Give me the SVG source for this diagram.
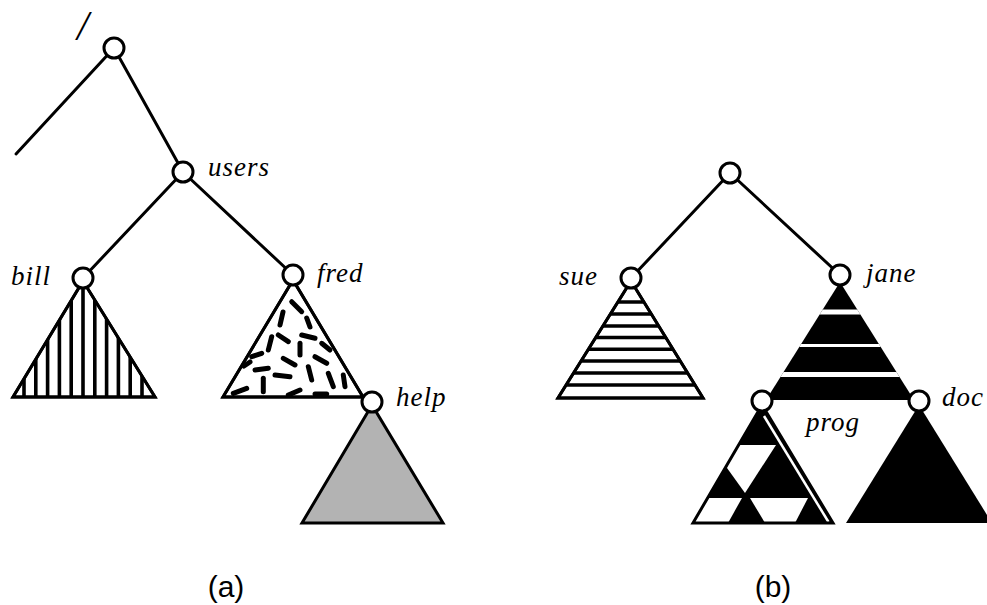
<svg xmlns="http://www.w3.org/2000/svg" width="987" height="605" viewBox="0 0 987 605">
  <style>
    .edge { stroke: #000; stroke-width: 3; fill: none; stroke-linecap: round; }
    .node { fill: #fff; stroke: #000; stroke-width: 3; }
    .tri { stroke: #000; stroke-width: 3; stroke-linejoin: miter; }
    .lbl { font-family: "Liberation Serif", "Times New Roman", serif; font-style: italic; font-size: 27px; fill: #000; letter-spacing: 1px; }
    .slash { font-family: "Liberation Serif", "Times New Roman", serif; font-style: italic; font-size: 42px; fill: #000; }
    .cap { font-family: "Liberation Sans", Arial, sans-serif; font-size: 30px; fill: #000; }
    .vs { stroke: #000; stroke-width: 3.6; }
    .hs { stroke: #000; stroke-width: 3.6; }
    .dash { stroke: #000; stroke-width: 5; stroke-linecap: round; }
  </style>
  <defs>
    <clipPath id="cBill"><polygon points="83,281 13,397 155,397"/></clipPath>
    <clipPath id="cFred"><polygon points="293,280 223,397 363,397"/></clipPath>
    <clipPath id="cSue"><polygon points="631,281 558,398 703,398"/></clipPath>
    <clipPath id="cJane"><polygon points="840,282 766,400 914,400"/></clipPath>
    <clipPath id="cProg"><polygon points="762,405 693,523 833,523"/></clipPath>
  </defs>

  <g id="connectors">
    <line class="edge" x1="114" y1="48" x2="16" y2="154"/>
    <line class="edge" x1="114" y1="48" x2="183" y2="172"/>
    <line class="edge" x1="183" y1="172" x2="83" y2="278"/>
    <line class="edge" x1="183" y1="172" x2="293" y2="275"/>
    <line class="edge" x1="730" y1="173" x2="631" y2="278"/>
    <line class="edge" x1="730" y1="173" x2="840" y2="275"/>
  </g>

  <!-- (a) tree -->
  <g id="bill-subtree">
    <polygon class="tri" points="83,281 13,397 155,397" fill="#fff"/>
    <g clip-path="url(#cBill)">
      <line class="vs" x1="24" y1="280" x2="24" y2="398"/>
      <line class="vs" x1="35.8" y1="280" x2="35.8" y2="398"/>
      <line class="vs" x1="47.6" y1="280" x2="47.6" y2="398"/>
      <line class="vs" x1="59.4" y1="280" x2="59.4" y2="398"/>
      <line class="vs" x1="71.2" y1="280" x2="71.2" y2="398"/>
      <line class="vs" x1="83" y1="280" x2="83" y2="398"/>
      <line class="vs" x1="94.8" y1="280" x2="94.8" y2="398"/>
      <line class="vs" x1="106.6" y1="280" x2="106.6" y2="398"/>
      <line class="vs" x1="118.4" y1="280" x2="118.4" y2="398"/>
      <line class="vs" x1="130.2" y1="280" x2="130.2" y2="398"/>
      <line class="vs" x1="142" y1="280" x2="142" y2="398"/>
    </g>
    <polygon class="tri" points="83,281 13,397 155,397" fill="none"/>
  </g>

  <g id="fred-subtree">
    <polygon class="tri" points="293,280 223,397 363,397" fill="#fff"/>
    <g clip-path="url(#cFred)">
      <line class="dash" x1="291.7" y1="301.7" x2="301.7" y2="311.7"/>
      <line class="dash" x1="283" y1="312" x2="280" y2="325"/>
      <line class="dash" x1="306.7" y1="318" x2="310" y2="327"/>
      <line class="dash" x1="271.7" y1="336.7" x2="268.3" y2="350"/>
      <line class="dash" x1="278.3" y1="335" x2="288.3" y2="341.7"/>
      <line class="dash" x1="301.7" y1="335" x2="315" y2="338.3"/>
      <line class="dash" x1="300" y1="343.3" x2="300" y2="355"/>
      <line class="dash" x1="321.7" y1="343.3" x2="330" y2="350"/>
      <line class="dash" x1="251.7" y1="356.7" x2="261.7" y2="353.3"/>
      <line class="dash" x1="283.3" y1="358.3" x2="295" y2="365"/>
      <line class="dash" x1="315" y1="356.7" x2="326.7" y2="363.3"/>
      <line class="dash" x1="255" y1="370" x2="268.3" y2="368.3"/>
      <line class="dash" x1="308.3" y1="366.7" x2="311.7" y2="380"/>
      <line class="dash" x1="275" y1="375" x2="290" y2="376.7"/>
      <line class="dash" x1="263.3" y1="378.3" x2="263.3" y2="391.7"/>
      <line class="dash" x1="328.3" y1="373.3" x2="333.3" y2="386.7"/>
      <line class="dash" x1="343.3" y1="375" x2="345" y2="386.7"/>
      <line class="dash" x1="233.3" y1="393.3" x2="246.7" y2="388.3"/>
      <line class="dash" x1="288.3" y1="395" x2="300" y2="390"/>
      <line class="dash" x1="315" y1="394" x2="326.7" y2="394"/>
      <line class="dash" x1="244" y1="366" x2="250" y2="362"/>
    </g>
    <polygon class="tri" points="293,280 223,397 363,397" fill="none"/>
  </g>

  <g id="help-subtree">
    <polygon class="tri" points="372,405 302,523 443,523" fill="#b3b3b3"/>
  </g>

  <g id="root-a"><circle class="node" cx="114" cy="48" r="10"/><text class="slash" x="77" y="40">/</text></g>
  <g id="users"><circle class="node" cx="183" cy="172" r="10"/><text class="lbl" x="208" y="176">users</text></g>
  <g id="bill"><circle class="node" cx="83" cy="278" r="10"/><text class="lbl" x="11" y="285">bill</text></g>
  <g id="fred"><circle class="node" cx="293" cy="275" r="10"/><text class="lbl" x="317" y="282">fred</text></g>
  <g id="help"><circle class="node" cx="372" cy="402" r="10"/><text class="lbl" x="396" y="406">help</text></g>

  <!-- (b) tree -->
  <g id="sue-subtree">
    <polygon class="tri" points="631,281 558,398 703,398" fill="#fff"/>
    <g clip-path="url(#cSue)">
      <line class="hs" x1="550" y1="302" x2="710" y2="302"/>
      <line class="hs" x1="550" y1="314" x2="710" y2="314"/>
      <line class="hs" x1="550" y1="326" x2="710" y2="326"/>
      <line class="hs" x1="550" y1="337.5" x2="710" y2="337.5"/>
      <line class="hs" x1="550" y1="349.3" x2="710" y2="349.3"/>
      <line class="hs" x1="550" y1="361" x2="710" y2="361"/>
      <line class="hs" x1="550" y1="373" x2="710" y2="373"/>
      <line class="hs" x1="550" y1="385" x2="710" y2="385"/>
    </g>
    <polygon class="tri" points="631,281 558,398 703,398" fill="none"/>
  </g>

  <g id="jane-subtree">
    <polygon points="840,282 766,400 914,400" fill="#000"/>
    <g clip-path="url(#cJane)" fill="#fff">
      <rect x="760" y="309.5" width="160" height="5"/>
      <rect x="760" y="344" width="160" height="3"/>
      <rect x="760" y="372" width="160" height="5"/>
    </g>
  </g>

  <g id="prog-subtree">
    <polygon points="762,405 693,523 833,523" fill="#000"/>
    <g clip-path="url(#cProg)" fill="#fff">
      <polygon points="730,445 776,445 745,493 727,468"/>
      <polygon points="700,498 742,498 728,523 690,523"/>
      <polygon points="750,498 808,498 795,523 765,523"/>
      <line x1="764" y1="416" x2="828.5" y2="522" stroke="#fff" stroke-width="2.5"/>
    </g>
    <polygon class="tri" points="762,405 693,523 833,523" fill="none"/>
  </g>

  <g id="doc-subtree">
    <polygon points="919,405 846,523 992,523" fill="#000"/>
  </g>

  <g id="root-b"><circle class="node" cx="730" cy="173" r="10"/></g>
  <g id="sue"><circle class="node" cx="631" cy="278" r="10"/><text class="lbl" x="559" y="285">sue</text></g>
  <g id="jane"><circle class="node" cx="840" cy="275" r="10"/><text class="lbl" x="866" y="282">jane</text></g>
  <g id="prog"><circle class="node" cx="762" cy="401" r="10"/><text class="lbl" x="806" y="431">prog</text></g>
  <g id="doc"><circle class="node" cx="919" cy="401" r="10"/><text class="lbl" x="942" y="406">doc</text></g>

  <g id="captions">
    <text class="cap" x="226" y="597" text-anchor="middle">(a)</text>
    <text class="cap" x="773" y="597" text-anchor="middle">(b)</text>
  </g>
</svg>
